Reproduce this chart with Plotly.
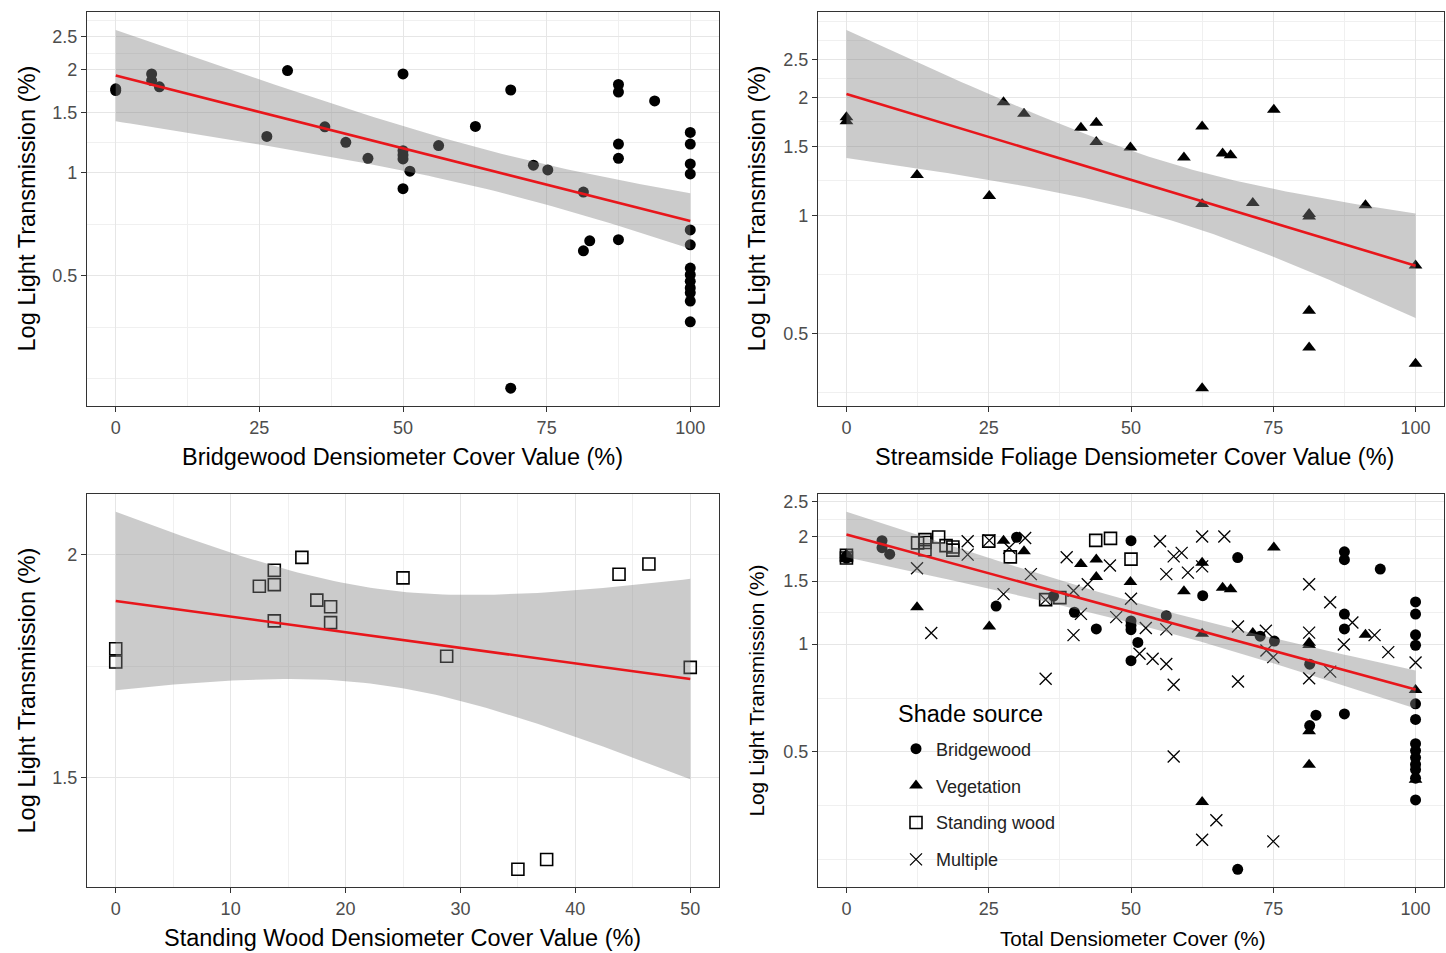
import numpy as np
import plotly.graph_objects as go

# ---------------- data ----------------
# Bridgewood (circles)
bw_x = [0, 0, 6.25, 6.25, 7.6, 26.3, 29.9, 36.4, 40.05, 43.9,
        50, 50, 50, 50, 50, 51.2, 56.2, 62.6, 68.75, 68.75,
        72.7, 75.2, 81.4, 81.4, 82.5, 87.5, 87.5, 87.5, 87.5, 87.5,
        93.8, 100, 100, 100, 100, 100, 100, 100, 100, 100, 100, 100, 100, 100]
bw_y = [1.74, 1.76, 1.946, 1.861, 1.784, 1.278, 1.99, 1.363, 1.228, 1.103,
        1.946, 1.161, 1.128, 1.098, 0.899, 1.011, 1.201, 1.366, 1.746, 0.2348,
        1.053, 1.02, 0.879, 0.592, 0.633, 1.812, 1.722, 1.214, 1.103, 0.638,
        1.622, 1.312, 1.214, 1.062, 0.993, 0.681, 0.616, 0.527, 0.504, 0.482,
        0.461, 0.446, 0.422, 0.367]

# Streamside foliage / Vegetation (triangles)
veg_x = [0, 0, 12.4, 25.1, 27.6, 31.2, 41.2, 43.9, 43.9, 49.9,
         59.3, 62.5, 62.5, 62.5, 66.1, 67.5, 71.4, 75.1, 81.3, 81.3,
         81.3, 81.3, 91.2, 100, 100]
veg_y = [1.78, 1.74, 1.268, 1.121, 1.946, 1.818, 1.675, 1.725, 1.541, 1.491,
         1.406, 1.688, 1.07, 0.362, 1.439, 1.425, 1.075, 1.862, 1.009, 0.994,
         0.571, 0.46, 1.062, 0.745, 0.418]

# Standing wood (open squares)
sw_x = [0, 0, 12.5, 13.8, 13.8, 13.8, 16.2, 17.5, 18.7, 18.7,
        25.0, 28.8, 35.0, 37.5, 43.8, 46.4, 50.0]
sw_y = [1.771, 1.741, 1.920, 1.960, 1.924, 1.836, 1.993, 1.886, 1.870, 1.832,
        1.941, 1.754, 1.332, 1.349, 1.950, 1.976, 1.729]

# Multiple shade sources (crosses) - only in the total-cover panel
mult_x = [12.4, 14.9, 21.3, 21.3, 25.1, 27.6, 28.6, 31.4, 32.4, 35.0,
          35.0, 38.7, 39.9, 39.9, 41.2, 42.4, 46.3, 47.4, 50.0, 51.5,
          52.6, 53.8, 55.1, 56.2, 56.2, 56.2, 57.5, 57.5, 57.5, 58.9,
          60.0, 62.5, 62.5, 62.5, 65.0, 66.4, 68.8, 68.8, 73.7, 73.8,
          75.0, 75.0, 81.3, 81.3, 81.3, 85.0, 85.0, 87.4, 88.9, 92.8,
          95.2, 100]
mult_y = [1.63, 1.075, 1.94, 1.78, 1.95, 1.38, 1.86, 1.98, 1.57, 0.80,
          1.33, 1.75, 1.41, 1.06, 1.215, 1.47, 1.66, 1.19, 1.34, 0.94,
          1.11, 0.91, 1.94, 1.57, 1.10, 0.88, 1.76, 0.77, 0.485, 1.80,
          1.585, 2.0, 1.65, 0.284, 0.322, 2.0, 1.12, 0.786, 1.09, 0.96,
          0.92, 0.281, 1.47, 1.077, 0.803, 1.31, 0.838, 0.998, 1.15, 1.06,
          0.95, 0.889]

y_breaks = [0.5, 1, 1.5, 2, 2.5]
y_labels = ["0.5", "1", "1.5", "2", "2.5"]
x_breaks_100 = [0, 25, 50, 75, 100]
x_breaks_50 = [0, 10, 20, 30, 40, 50]

x_titles = ["Bridgewood Densiometer Cover Value (%)",
            "Streamside Foliage Densiometer Cover Value (%)",
            "Standing Wood Densiometer Cover Value (%)",
            "Total Densiometer Cover (%)"]
y_title = "Log Light Transmission (%)"
legend_title = "Shade source"
legend_names = ["Bridgewood", "Vegetation", "Standing wood", "Multiple"]

# ---------------- helpers ----------------
FONT = "Liberation Sans, Arial, sans-serif"
W, H = 1446, 953
# panel boxes in pixels (left, right, top, bottom)
boxes = [(87, 719, 10, 405), (818, 1444, 10, 405),
         (87, 719, 493, 887), (818, 1444, 493, 887)]


def t975(df):
    z = 1.959964
    g1 = (z**3 + z) / 4
    g2 = (5 * z**5 + 16 * z**3 + 3 * z) / 96
    g3 = (3 * z**7 + 19 * z**5 + 17 * z**3 - 15 * z) / 384
    return z + g1 / df + g2 / df**2 + g3 / df**3


def lm_fit(xs, ys, n_out=80):
    x = np.asarray(xs, float)
    ly = np.log10(np.asarray(ys, float))
    n = len(x)
    b, a = np.polyfit(x, ly, 1)
    res = ly - (a + b * x)
    s = np.sqrt(np.sum(res**2) / (n - 2))
    xg = np.linspace(x.min(), x.max(), n_out)
    pred = a + b * xg
    se = s * np.sqrt(1 / n + (xg - x.mean())**2 / np.sum((x - x.mean())**2))
    t = t975(n - 2)
    return xg, 10**pred, 10**(pred - t * se), 10**(pred + t * se)


def minor_breaks(major_log, lo, hi):
    b = list(major_log)
    b = [b[0] - (b[1] - b[0])] + b + [b[-1] + (b[-1] - b[-2])]
    out = []
    for i in range(len(b) - 1):
        out += [b[i], (b[i] + b[i + 1]) / 2]
    out.append(b[-1])
    out = [v for v in out if lo <= v <= hi and all(abs(v - m) > 1e-9 for m in major_log)]
    return out


fig = go.Figure()

panels = [
    dict(sets=[(bw_x, bw_y, "circle", 11, 0)], xb=x_breaks_100),
    dict(sets=[(veg_x, veg_y, "triangle-up", 12, 1)], xb=x_breaks_100),
    dict(sets=[(sw_x, sw_y, "square-open", 12, 2)], xb=x_breaks_50),
    dict(sets=[(bw_x, bw_y, "circle", 11, 0), (veg_x, veg_y, "triangle-up", 12, 1),
               (sw_x, sw_y, "square-open", 12, 2), (mult_x, mult_y, "x-thin-open", 12, 3)],
         xb=x_breaks_100),
]

for i, p in enumerate(panels):
    k = "" if i == 0 else str(i + 1)
    xa, ya = "x" + k, "y" + k
    allx, ally = [], []
    for (xs, ys, sym, sz, li) in p["sets"]:
        allx += xs
        ally += ys
        line_w = 1.6 if "square" in sym else (1.3 if sym.startswith("x") else 0)
        fig.add_trace(go.Scatter(
            x=xs, y=ys, mode="markers", xaxis=xa, yaxis=ya,
            marker=dict(symbol=sym, size=sz, color="black",
                        line=dict(color="black", width=line_w)),
            name=legend_names[li], legendgroup=legend_names[li],
            showlegend=(i == 3), hoverinfo="skip"))
    xg, yf, lo, hi = lm_fit(allx, ally)
    fig.add_trace(go.Scatter(
        x=np.concatenate([xg, xg[::-1]]), y=np.concatenate([hi, lo[::-1]]),
        xaxis=xa, yaxis=ya, mode="lines", fill="toself",
        fillcolor="rgba(130,130,130,0.42)", line=dict(width=0),
        showlegend=False, hoverinfo="skip"))
    fig.add_trace(go.Scatter(
        x=xg, y=yf, xaxis=xa, yaxis=ya, mode="lines",
        line=dict(color="#E8161B", width=2.6),
        showlegend=False, hoverinfo="skip"))

    # ranges (ggplot default 5 % expansion)
    xmin, xmax = min(allx), max(allx)
    dx = (xmax - xmin) * 0.05
    lys = np.log10(np.concatenate([np.array(ally), lo, hi]))
    ylo, yhi = lys.min(), lys.max()
    dy = (yhi - ylo) * 0.05
    yr = [ylo - dy, yhi + dy]
    xr = [xmin - dx, xmax + dx]

    l, r, t, btm = boxes[i]
    xb = p["xb"]
    step = xb[1] - xb[0]
    xminor = [v + step / 2 for v in [xb[0] - step] + xb]
    xminor = [v for v in xminor if xr[0] <= v <= xr[1]]
    ymaj_log = list(np.log10(y_breaks))
    yminor = [10**v for v in minor_breaks(ymaj_log, yr[0], yr[1])]

    axcommon = dict(showline=True, mirror=True, linecolor="#333333", linewidth=1.3,
                    ticks="outside", ticklen=5, tickcolor="#333333", tickwidth=1,
                    gridcolor="#E6E6E6", gridwidth=1, zeroline=False,
                    tickfont=dict(family=FONT, size=18, color="#4D4D4D"))
    fig.layout["xaxis" + k] = dict(
        axcommon, domain=[l / W, r / W], anchor=ya, range=xr,
        tickmode="array", tickvals=xb, ticktext=[str(v) for v in xb],
        minor=dict(tickmode="array", tickvals=xminor, showgrid=True,
                   gridcolor="#F0F0F0", gridwidth=1, ticks=""))
    fig.layout["yaxis" + k] = dict(
        axcommon, domain=[1 - btm / H, 1 - t / H], anchor=xa, type="log", range=yr,
        tickmode="array", tickvals=y_breaks, ticktext=y_labels,
        minor=dict(tickmode="array", tickvals=yminor, showgrid=True,
                   gridcolor="#F0F0F0", gridwidth=1, ticks=""))

# axis titles as annotations
xt_pos = [(402, 456, 23.5), (1134, 456, 23.5), (402, 938, 23.5), (1133, 938, 20.7)]
yt_pos = [(27, 207, 23.6), (757, 207, 23.6), (27, 690, 23.6), (757, 690, 20.8)]
ann = []
for i in range(4):
    x, y, s = xt_pos[i]
    ann.append(dict(text=x_titles[i], x=x / W, y=1 - y / H, xref="paper", yref="paper",
                    xanchor="center", yanchor="middle", showarrow=False,
                    font=dict(family=FONT, size=s, color="black")))
    x, y, s = yt_pos[i]
    ann.append(dict(text=y_title, x=x / W, y=1 - y / H, xref="paper", yref="paper",
                    xanchor="center", yanchor="middle", showarrow=False, textangle=-90,
                    font=dict(family=FONT, size=s, color="black")))
# legend title
ann.append(dict(text=legend_title, x=896 / W, y=1 - 713 / H, xref="paper", yref="paper",
                xanchor="left", yanchor="middle", showarrow=False,
                font=dict(family=FONT, size=23.5, color="black")))

fig.update_layout(
    width=W, height=H, margin=dict(l=0, r=0, t=0, b=0),
    paper_bgcolor="white", plot_bgcolor="white",
    annotations=ann,
    showlegend=True,
    legend=dict(x=896 / W, y=1 - 730 / H, xanchor="left", yanchor="top",
                bgcolor="rgba(0,0,0,0)", traceorder="grouped", tracegroupgap=10.5,
                font=dict(family=FONT, size=18, color="#222222")),
)

fig.write_html("out.html")
